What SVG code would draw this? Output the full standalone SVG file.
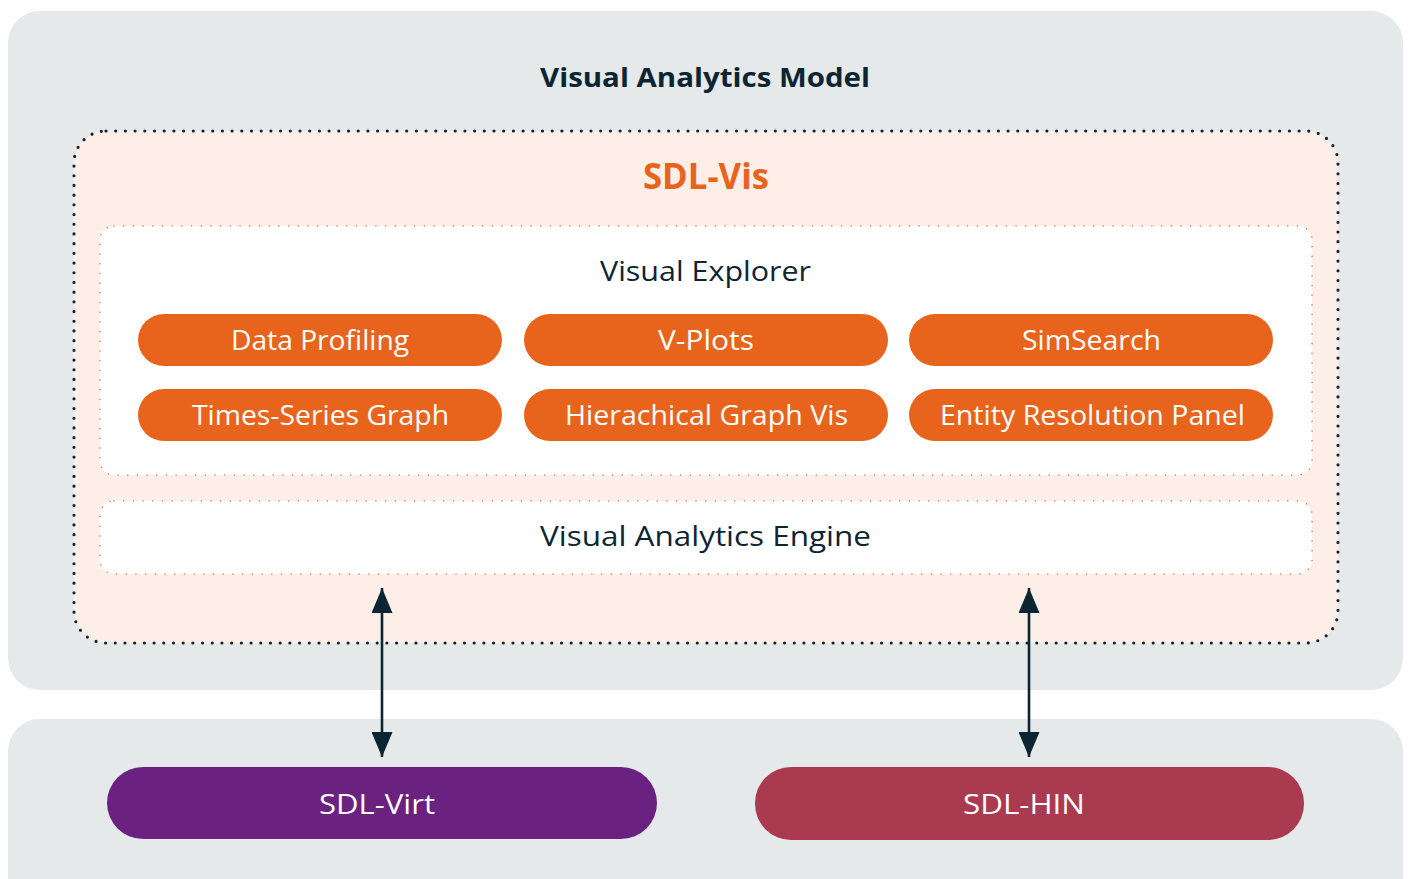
<svg xmlns="http://www.w3.org/2000/svg" width="1408" height="879" viewBox="0 0 1408 879">
<defs>
<style>
.panel{fill:#e5e9ea}
.vis{fill:#fdeee7;stroke:#0d2533;stroke-width:3.2;stroke-dasharray:0 9.7;stroke-linecap:round}
.inner{fill:#ffffff;stroke:#f07a3a;stroke-width:1.6;stroke-dasharray:0 9.7;stroke-linecap:round}
.pill{fill:#e8641d}
.t{font-family:"Open Sans",Lato,"Liberation Sans",sans-serif;text-anchor:middle}
.dark{fill:#0d2533}
.white{fill:#ffffff}
.conn{stroke:#0d2533;stroke-width:2.6;fill:none}
</style>
<marker id="arr" viewBox="0 0 25 21" refX="25" refY="10.5" markerWidth="25" markerHeight="21" markerUnits="userSpaceOnUse" orient="auto-start-reverse">
<path d="M0,0 L25,10.5 L0,21 Z" fill="#0d2533"/>
</marker>
</defs>
<rect width="1408" height="879" fill="#ffffff"/>
<g id="visual-analytics-model">
<rect class="panel" x="8" y="11" width="1395" height="679" rx="32"/>
<text class="t dark" x="705" y="87" font-size="27" font-weight="bold" textLength="330" lengthAdjust="spacingAndGlyphs">Visual Analytics Model</text>
</g>
<g id="sdl-vis">
<rect class="vis" x="74" y="131" width="1264" height="512" rx="32"/>
<text class="t" x="706" y="189" font-size="36" font-weight="bold" fill="#e8641d" textLength="126" lengthAdjust="spacingAndGlyphs">SDL-Vis</text>
</g>
<g id="visual-explorer">
<rect class="inner" x="100" y="226" width="1212" height="249" rx="14"/>
<text class="t dark" x="705.5" y="281" font-size="28" textLength="211" lengthAdjust="spacingAndGlyphs">Visual Explorer</text>
</g>
<g id="data-profiling">
<rect class="pill" x="138" y="314" width="364" height="52" rx="26"/>
<text class="t white" x="320" y="350" font-size="28" textLength="178" lengthAdjust="spacingAndGlyphs">Data Profiling</text>
</g>
<g id="v-plots">
<rect class="pill" x="524" y="314" width="364" height="52" rx="26"/>
<text class="t white" x="706" y="350" font-size="28" textLength="96" lengthAdjust="spacingAndGlyphs">V-Plots</text>
</g>
<g id="simsearch">
<rect class="pill" x="909" y="314" width="364" height="52" rx="26"/>
<text class="t white" x="1091.5" y="350" font-size="28" textLength="139" lengthAdjust="spacingAndGlyphs">SimSearch</text>
</g>
<g id="times-series-graph">
<rect class="pill" x="138" y="389" width="364" height="52" rx="26"/>
<text class="t white" x="320.5" y="425" font-size="28" textLength="257" lengthAdjust="spacingAndGlyphs">Times-Series Graph</text>
</g>
<g id="hierachical-graph-vis">
<rect class="pill" x="524" y="389" width="364" height="52" rx="26"/>
<text class="t white" x="706.5" y="425" font-size="28" textLength="283" lengthAdjust="spacingAndGlyphs">Hierachical Graph Vis</text>
</g>
<g id="entity-resolution-panel">
<rect class="pill" x="909" y="389" width="364" height="52" rx="26"/>
<text class="t white" x="1092.5" y="425" font-size="28" textLength="305" lengthAdjust="spacingAndGlyphs">Entity Resolution Panel</text>
</g>
<g id="visual-analytics-engine">
<rect class="inner" x="100" y="501" width="1212" height="73" rx="14"/>
<text class="t dark" x="705.5" y="546" font-size="28" textLength="331" lengthAdjust="spacingAndGlyphs">Visual Analytics Engine</text>
</g>
<g id="bottom-layer">
<rect class="panel" x="8" y="719" width="1395" height="200" rx="32"/>
</g>
<g id="sdl-virt">
<rect x="107" y="767" width="550" height="72" rx="36" fill="#6b2180"/>
<text class="t white" x="377" y="814" font-size="28" textLength="116" lengthAdjust="spacingAndGlyphs">SDL-Virt</text>
</g>
<g id="sdl-hin">
<rect x="755" y="767" width="549" height="73" rx="36" fill="#a93a50"/>
<text class="t white" x="1024" y="814" font-size="28" textLength="122" lengthAdjust="spacingAndGlyphs">SDL-HIN</text>
</g>
<g id="connectors">
<line class="conn" x1="382" y1="588" x2="382" y2="757" marker-start="url(#arr)" marker-end="url(#arr)"/>
<line class="conn" x1="1029" y1="588" x2="1029" y2="757" marker-start="url(#arr)" marker-end="url(#arr)"/>
</g>
</svg>
